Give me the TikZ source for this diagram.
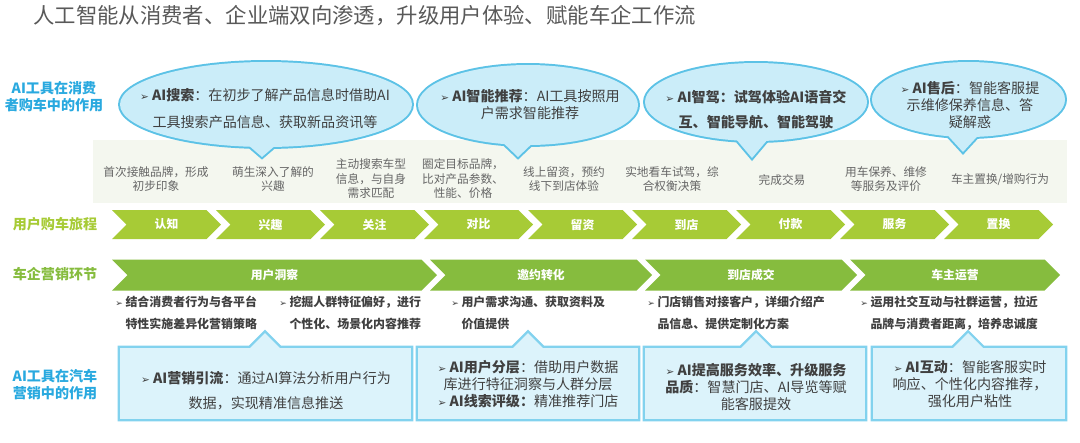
\documentclass[tikz,border=0pt]{standalone}
\usepackage{fontspec}
\setmainfont{Noto Sans CJK SC}
\newfontfamily\symfont{DejaVu Sans}[Scale=0.75]
\usepackage{xcolor}
\usepackage{tikz}
\usetikzlibrary{positioning,shapes.symbols}

\definecolor{titlegray}{HTML}{595959}
\definecolor{sidecyan}{HTML}{29A9DF}
\definecolor{journeygreen}{HTML}{A7CB36}
\definecolor{marketgreen}{HTML}{86BC3E}
\definecolor{bubblefill}{HTML}{CBEDF9}
\definecolor{bubbleline}{HTML}{5CC2E6}
\definecolor{boxfill}{HTML}{DCF3FB}
\definecolor{boxline}{HTML}{82D2EE}
\definecolor{paleband}{HTML}{F4F7EF}
\definecolor{descgray}{HTML}{666666}
\definecolor{darktext}{HTML}{404040}

\newcommand{\pxu}{0.025cm}
\newcommand{\tipmark}{{\symfont ➢}}

% bubble: cx, cy, rx, ry, tip x, tip y
\newcommand{\bubble}[6]{%
  \path[draw=bubbleline, line width=2.8pt] (#1,#2) ellipse [x radius=#3, y radius=#4]
    (#5-22,#2+#4-9) -- (#5,#6) -- (#5+22,#2+#4-9);
  \fill[bubblefill] (#1,#2) ellipse [x radius=#3, y radius=#4];
  \fill[bubblefill] (#5-22,#2+#4-9) -- (#5,#6) -- (#5+22,#2+#4-9) -- cycle;
}
% call-out box: left, top, right, bottom, apex x
\newcommand{\callbox}[5]{%
  \path[draw=boxline, line width=3.4pt] (#1,#2) rectangle (#3,#4)
    (#5-19,#2+4) -- (#5,#2-15) -- (#5+19,#2+4);
  \fill[boxfill] (#1,#2) rectangle (#3,#4);
  \fill[boxfill] (#5-19,#2+4) -- (#5,#2-15) -- (#5+19,#2+4) -- cycle;
}

\tikzset{
  journey/.style={shape=signal, signal from=west, signal to=east, signal pointer angle=90,
    draw=none, fill=journeygreen, text=white, inner sep=0pt,
    font=\fontsize{8.4}{10}\selectfont\bfseries,
    minimum height=29*\pxu, minimum width=109*\pxu},
  market/.style={journey, fill=marketgreen, minimum height=31*\pxu},
  desc/.style={text=descgray, align=center, inner sep=0pt,
    font=\fontsize{8.3}{10.3}\selectfont},
  bullet/.style={text=darktext, align=left, inner sep=0pt, anchor=west,
    font=\fontsize{8.5}{15.6}\selectfont\bfseries},
  sidelabel/.style={align=center, inner sep=0pt,
    font=\fontsize{10}{12}\selectfont\bfseries},
  bubtext/.style={text=darktext, align=center, inner sep=0pt,
    font=\fontsize{10}{12.1}\selectfont}
}

\begin{document}
\begin{tikzpicture}[x=0.025cm, y=-0.025cm]
    \useasboundingbox (0,0) rectangle (1080,442);

    \node[anchor=west, inner sep=0pt, text=titlegray, font=\fontsize{15.2}{18}\selectfont] (title) at (33,15.5)
        {人工智能从消费者、企业端双向渗透，升级用户体验、赋能车企工作流};

    % left side labels
    \node[sidelabel, text=sidecyan] (lbuy) at (54,96.5) {AI工具在消费\\者购车中的作用};
    \node[sidelabel, text=journeygreen] (ljourney) at (55,224) {用户购车旅程};
    \node[sidelabel, text=marketgreen] (lmarket) at (55,274) {车企营销环节};
    \node[sidelabel, text=sidecyan] (lsales) at (55,384.5) {AI工具在汽车\\营销中的作用};

    \fill[paleband] (93,140) rectangle (1067,203);

    % AI bubbles above the journey
    \bubble{266}{104.5}{146}{42.5}{262}{157}
    \bubble{528}{105}{110}{40}{518}{157}
    \bubble{756}{102}{111}{39}{752}{158}
    \bubble{968.5}{99.5}{96.5}{37.5}{963}{152}

    \node[bubtext] (bt1) at (265,108.5)
        {\tipmark\ \textbf{AI搜索}：在初步了解产品信息时借助AI\\[7pt]工具搜索产品信息、获取新品资讯等};
    \node[bubtext] (bt2) at (530,105)
        {\tipmark\ \textbf{AI智能推荐}：AI工具按照用\\户需求智能推荐};
    \node[bubtext, font=\fontsize{10}{12.1}\selectfont\bfseries] (bt3) at (756,109.5)
        {\tipmark\ AI智驾：试驾体验AI语音交\\[5.7pt]互、智能导航、智能驾驶};
    \node[bubtext] (bt4) at (970,105)
        {\tipmark\ \textbf{AI售后}：智能客服提\\示维修保养信息、答\\疑解惑};

    % journey steps
    \node[desc] (d1) at (156,179) {首次接触品牌，形成\\初步印象};
    \node[desc] (d2) at (273,179) {萌生深入了解的\\兴趣};
    \node[desc] (d3) at (371,179) {主动搜索车型\\信息，与自身\\需求匹配};
    \node[desc] (d4) at (463,179) {圈定目标品牌，\\比对产品参数、\\性能、价格};
    \node[desc] (d5) at (564,179) {线上留资，预约\\线下到店体验};
    \node[desc] (d6) at (672,179) {实地看车试驾，综\\合权衡决策};
    \node[desc] (d7) at (782,180) {完成交易};
    \node[desc] (d8) at (886,179) {用车保养、维修\\等服务及评价};
    \node[desc] (d9) at (1000,180) {车主置换/增购行为};

    \node[journey] (j1) at (166.5,224.5) {认知};
    \node[journey] (j2) at (270.5,224.5) {兴趣};
    \node[journey] (j3) at (374.5,224.5) {关注};
    \node[journey] (j4) at (478.5,224.5) {对比};
    \node[journey] (j5) at (582.5,224.5) {留资};
    \node[journey] (j6) at (686.5,224.5) {到店};
    \node[journey] (j7) at (790.5,224.5) {付款};
    \node[journey] (j8) at (894.5,224.5) {服务};
    \node[journey] (j9) at (998.5,224.5) {置换};

    % marketing stages
    \node[market, minimum width=325*\pxu] (m1) at (274.5,275) {用户洞察};
    \node[market, minimum width=222*\pxu] (m2) at (541,275) {邀约转化};
    \node[market, minimum width=212*\pxu] (m3) at (751,275) {到店成交};
    \node[market, minimum width=210*\pxu] (m4) at (955,275) {车主运营};

    \node[bullet] (b1) at (115,313) {\tipmark\ 结合消费者行为与各平台\\\phantom{\tipmark\ }特性实施差异化营销策略};
    \node[bullet] (b2) at (279,313) {\tipmark\ 挖掘人群特征偏好，进行\\\phantom{\tipmark\ }个性化、场景化内容推荐};
    \node[bullet] (b3) at (451,313) {\tipmark\ 用户需求沟通、获取资料及\\\phantom{\tipmark\ }价值提供};
    \node[bullet] (b4) at (647,313) {\tipmark\ 门店销售对接客户，详细介绍产\\\phantom{\tipmark\ }品信息、提供定制化方案};
    \node[bullet] (b5) at (860,313) {\tipmark\ 运用社交互动与社群运营，拉近\\\phantom{\tipmark\ }品牌与消费者距离，培养忠诚度};

    % AI call-out boxes
    \callbox{120}{348}{411}{419}{265}
    \callbox{418}{348}{638}{419}{528}
    \callbox{645}{348}{865}{419}{756}
    \callbox{873}{348}{1065}{419}{968}

    \node[bubtext] (xt1) at (266,390.5)
        {\tipmark\ \textbf{AI营销引流}：通过AI算法分析用户行为\\[5.7pt]数据，实现精准信息推送};
    \node[bubtext] (xt2) at (528,384.5)
        {\tipmark\ \textbf{AI用户分层}：借助用户数据\\库进行特征洞察与人群分层\\\tipmark\ \textbf{AI线索评级：}精准推荐门店};
    \node[bubtext] (xt3) at (756,387)
        {\tipmark\ \textbf{AI提高服务效率、升级服务}\\\textbf{品质}：智慧门店、AI导览等赋\\能客服提效};
    \node[bubtext] (xt4) at (970,384.5)
        {\tipmark\ \textbf{AI互动}：智能客服实时\\响应、个性化内容推荐，\\强化用户粘性};
\end{tikzpicture}
\end{document}
